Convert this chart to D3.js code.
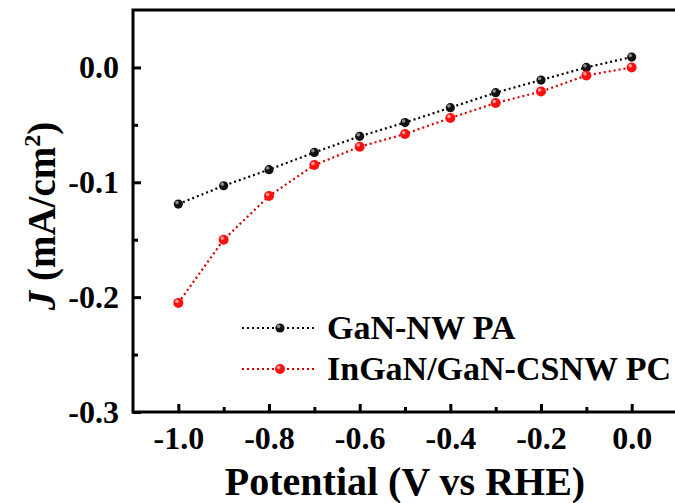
<!DOCTYPE html>
<html>
<head>
<meta charset="utf-8">
<script src="https://cdn.jsdelivr.net/npm/d3@7.9.0/dist/d3.min.js"></script>
</head>
<body style="margin:0">
<svg id="chart" width="675" height="503" style="display:block"></svg>
<script>
const potentials = [-1.0, -0.9, -0.8, -0.7, -0.6, -0.5, -0.4, -0.3, -0.2, -0.1, 0.0];
const ganNW = [-0.119, -0.103, -0.089, -0.074, -0.060, -0.048, -0.035, -0.022, -0.011, 0.000, 0.009];
const inganCSNW = [-0.205, -0.150, -0.112, -0.085, -0.069, -0.058, -0.044, -0.031, -0.021, -0.007, 0.000];

const xTicks = [-1.0, -0.8, -0.6, -0.4, -0.2, 0.0];
const xMinor = [-0.9, -0.7, -0.5, -0.3, -0.1];
const yTicks = [0.0, -0.1, -0.2, -0.3];
const yMinor = [-0.05, -0.15, -0.25];

const seriesNames = ['GaN-NW PA', 'InGaN/GaN-CSNW PC'];
const lineColors = ['#000', '#d40000'];
const ballColors = ['#111', '#ff1010'];
const shineColors = ['#8a8a8a', '#ff9c9c'];

const FONT = "'Liberation Serif', 'Times New Roman', serif";
const fmt = (d) => d3.format('.1f')(d).replace('−', '-');

const svg = d3.select('#chart').attr('font-family', FONT);

const margin = { left: 133, right: 677, top: 10, bottom: 412 };
const x = d3.scaleLinear().domain([-1.1, 0.1]).range([margin.left, margin.right]);
const y = d3.scaleLinear().domain([-0.3, 0.05]).range([margin.bottom, margin.top]);

// frame
svg.append('rect')
  .attr('x', margin.left).attr('y', margin.top)
  .attr('width', margin.right - margin.left).attr('height', margin.bottom - margin.top)
  .attr('fill', 'none').attr('stroke', '#000').attr('stroke-width', 3);

// x axis
let gx = svg.append('g').attr('transform', `translate(0,${margin.bottom})`)
  .call(d3.axisBottom(x).tickValues(xTicks).tickSize(-8).tickPadding(14));
gx.select('.domain').remove();
gx.selectAll('line').attr('stroke-width', 3);
gx.selectAll('text').text(fmt);

let gxm = svg.append('g').attr('transform', `translate(0,${margin.bottom})`)
  .call(d3.axisBottom(x).tickValues(xMinor).tickSize(-5).tickFormat(''));
gxm.select('.domain').remove();
gxm.selectAll('line').attr('stroke-width', 3);

// y axis
let gy = svg.append('g').attr('transform', `translate(${margin.left},0)`)
  .call(d3.axisLeft(y).tickValues(yTicks).tickSize(-8).tickPadding(14));
gy.select('.domain').remove();
gy.selectAll('line').attr('stroke-width', 3);
gy.selectAll('text').text(fmt);

let gym = svg.append('g').attr('transform', `translate(${margin.left},0)`)
  .call(d3.axisLeft(y).tickValues(yMinor).tickSize(-5).tickFormat(''));
gym.select('.domain').remove();
gym.selectAll('line').attr('stroke-width', 3);

svg.selectAll('g').attr('font-family', null).attr('font-size', null);
svg.selectAll('.tick text')
  .attr('font-family', FONT)
  .style('font-family', FONT).style('font-weight', 'bold').style('font-size', '32px')
  .attr('fill', '#000');

// series
const series = [ganNW, inganCSNW];
const line = d3.line().x((d) => x(d[0])).y((d) => y(d[1]));

function ball(sel, idx) {
  let r = idx === 0 ? 4.6 : 5;
  sel.append('circle').attr('r', r).attr('fill', ballColors[idx]);
  sel.append('circle').attr('cx', -1.4).attr('cy', -1.6).attr('r', 1.8).attr('fill', shineColors[idx]);
}

series.forEach((vals, idx) => {
  let pts = potentials.map((p, i) => [p, vals[i]]);
  svg.append('path')
    .attr('d', line(pts))
    .attr('fill', 'none')
    .attr('stroke', lineColors[idx])
    .attr('stroke-width', 2.2)
    .attr('stroke-dasharray', '2,3');
  svg.append('g').selectAll('g')
    .data(pts)
    .join('g')
    .attr('transform', (d) => `translate(${x(d[0])},${y(d[1])})`)
    .each(function () { ball(d3.select(this), idx); });
});

// legend
const legendY = [328, 369];
seriesNames.forEach((name, idx) => {
  let g = svg.append('g').attr('transform', `translate(0,${legendY[idx]})`);
  g.append('line')
    .attr('x1', 242).attr('x2', 317)
    .attr('stroke', lineColors[idx]).attr('stroke-width', 2.2)
    .attr('stroke-dasharray', '2,3');
  ball(g.append('g').attr('transform', 'translate(280,0)'), idx);
  g.append('text').attr('x', 327).attr('y', 11)
    .attr('font-family', FONT)
    .style('font-family', FONT).style('font-weight', 'bold').style('font-size', '34px')
    .text(name);
});

// axis titles
svg.append('text')
  .attr('x', 405).attr('y', 495)
  .attr('text-anchor', 'middle')
  .attr('font-family', FONT)
  .style('font-family', FONT).style('font-weight', 'bold').style('font-size', '40px')
  .text('Potential (V vs RHE)');

let yTitle = svg.append('text')
  .attr('transform', 'translate(55,216) rotate(-90)')
  .attr('text-anchor', 'middle')
  .attr('font-family', FONT)
  .style('font-family', FONT).style('font-weight', 'bold').style('font-size', '39px');
yTitle.append('tspan').style('font-style', 'italic').text('J');
yTitle.append('tspan').text(' (mA/cm');
yTitle.append('tspan').style('font-size', '24px').attr('dy', -15).text('2');
yTitle.append('tspan').attr('dy', 15).text(')');
</script>
</body>
</html>
